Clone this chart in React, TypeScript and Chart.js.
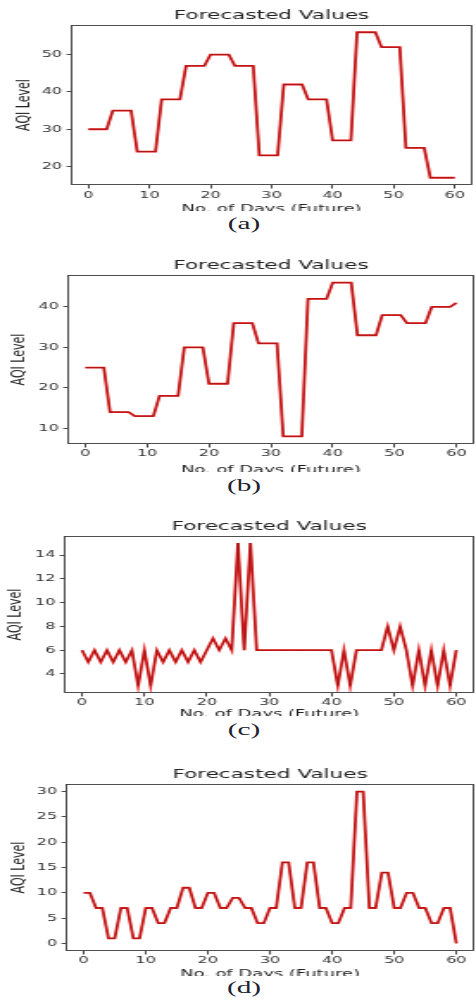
import React, { useEffect, useRef } from "react";
import { Chart, registerables } from "chart.js";

Chart.register(...registerables);

// ---------- DATA ----------
const days = [
  0, 1, 2, 3, 4, 5, 6, 7, 8, 9, 10, 11, 12, 13, 14, 15, 16, 17, 18, 19, 20,
  21, 22, 23, 24, 25, 26, 27, 28, 29, 30, 31, 32, 33, 34, 35, 36, 37, 38, 39, 40,
  41, 42, 43, 44, 45, 46, 47, 48, 49, 50, 51, 52, 53, 54, 55, 56, 57, 58, 59, 60,
];

const aqiA = [
  30, 30, 30, 30, 35, 35, 35, 35, 24, 24, 24, 24, 38, 38, 38, 38, 47, 47, 47, 47,
  50, 50, 50, 50, 47, 47, 47, 47, 23, 23, 23, 23, 42, 42, 42, 42, 38, 38, 38, 38,
  27, 27, 27, 27, 56, 56, 56, 56, 52, 52, 52, 52, 25, 25, 25, 25, 17, 17, 17, 17, 17,
];

const aqiB = [
  25, 25, 25, 25, 14, 14, 14, 14, 13, 13, 13, 13, 18, 18, 18, 18, 30, 30, 30, 30,
  21, 21, 21, 21, 36, 36, 36, 36, 31, 31, 31, 31, 8, 8, 8, 8, 42, 42, 42, 42,
  46, 46, 46, 46, 33, 33, 33, 33, 38, 38, 38, 38, 36, 36, 36, 36, 40, 40, 40, 40, 41,
];

const aqiC = [
  6, 5, 6, 5, 6, 5, 6, 5, 6, 3, 6, 3, 6, 5, 6, 5, 6, 5, 6, 5,
  6, 7, 6, 7, 6, 15, 6, 15, 6, 6, 6, 6, 6, 6, 6, 6, 6, 6, 6, 6,
  6, 3, 6, 3, 6, 6, 6, 6, 6, 8, 6, 8, 6, 3, 6, 3, 6, 3, 6, 3, 6,
];

const aqiD = [
  10, 10, 7, 7, 1, 1, 7, 7, 1, 1, 7, 7, 4, 4, 7, 7, 11, 11, 7, 7,
  10, 10, 7, 7, 9, 9, 7, 7, 4, 4, 7, 7, 16, 16, 7, 7, 16, 16, 7, 7,
  4, 4, 7, 7, 30, 30, 7, 7, 14, 14, 7, 7, 10, 10, 7, 7, 4, 4, 7, 7, 0,
];

const xTicks = [0, 10, 20, 30, 40, 50, 60];
const yTicksA = [20, 30, 40, 50];
const yTicksB = [10, 20, 30, 40];
const yTicksC = [4, 6, 8, 10, 12, 14];
const yTicksD = [0, 5, 10, 15, 20, 25, 30];

const chartTitle = "Forecasted Values";
const xAxisTitle = "No. of Days (Future)";
const yAxisTitle = "AQI Level";
const captions = ["(a)", "(b)", "(c)", "(d)"];

// ---------- LAYOUT ----------
const S = 1.7246; // horizontal stretch of the whole figure
const CW = 276; // internal width
const FONT = "'DejaVu Sans', sans-serif";

type Geo = {
  T: number;
  frameBottom: number;
  left: number;
  right: number;
  yTitleX: number;
  tickCenter: number;
  xTitleCenter: number;
  clip: number;
  captionY: number;
};

const geos: Geo[] = [
  { T: 0, frameBottom: 185, left: 40.6, right: 274.3, yTitleX: 13.9, tickCenter: 196, xTitleCenter: 208.8, clip: 210.5, captionY: 225.5 },
  { T: 250, frameBottom: 444, left: 38.7, right: 275.4, yTitleX: 11.2, tickCenter: 454, xTitleCenter: 469.8, clip: 471.5, captionY: 487.5 },
  { T: 511, frameBottom: 693, left: 36.7, right: 275.4, yTitleX: 9.3, tickCenter: 702.5, xTitleCenter: 713.8, clip: 715.5, captionY: 731.5 },
  { T: 759, frameBottom: 951, left: 37.7, right: 275.4, yTitleX: 11.0, tickCenter: 961, xTitleCenter: 974.3, clip: 976, captionY: 989 },
];

const series = [aqiA, aqiB, aqiC, aqiD];
const yTickSets = [yTicksA, yTicksB, yTicksC, yTicksD];

const framePlugin = {
  id: "frameBox",
  afterDatasetsDraw(chart: any) {
    const { ctx, chartArea } = chart;
    const l = Math.round(chartArea.left) + 0.5;
    const t = Math.round(chartArea.top) + 0.5;
    const r = Math.round(chartArea.right) - 0.5;
    const b = Math.round(chartArea.bottom) - 0.5;
    ctx.save();
    ctx.strokeStyle = "#3c3c3c";
    ctx.lineWidth = 0.9;
    ctx.strokeRect(l, t, r - l, b - t);
    ctx.restore();
  },
};

function Panel({ idx }: { idx: number }) {
  const ref = useRef<HTMLCanvasElement | null>(null);
  const g = geos[idx];
  const vals = series[idx];
  const yTicks = yTickSets[idx];
  const canvasH = Math.ceil(g.clip - g.T) + 20;

  useEffect(() => {
    if (!ref.current) return;
    const lo = Math.min(...vals);
    const hi = Math.max(...vals);
    const m = (hi - lo) * 0.05;
    const pts = days.map((d, i) => ({ x: d, y: vals[i] }));
    const xh = canvasH - (g.frameBottom - g.T);
    const xTickPad = g.tickCenter - g.frameBottom - 3.5 - (9.3 * 1.2) / 2;
    const xTitlePadB = canvasH - (g.xTitleCenter - g.T) - (10.4 * 1.2) / 2;

    const chart = new Chart(ref.current, {
      type: "line",
      data: {
        datasets: [
          { data: pts, borderColor: "#861010", borderWidth: 0.6, pointRadius: 0, tension: 0 },
          { data: pts, borderColor: "#e61c1c", borderWidth: 1.8, pointRadius: 0, tension: 0 },
        ],
      },
      options: {
        responsive: false,
        animation: false,
        devicePixelRatio: 1,
        layout: { padding: { top: 0, left: 0, bottom: 0, right: CW - g.right } },
        plugins: {
          legend: { display: false },
          tooltip: { enabled: false },
          title: {
            display: true,
            text: chartTitle,
            fullSize: false,
            color: "#222",
            font: { family: FONT, size: 12.5, weight: "normal" },
            padding: { top: 8.5, bottom: 1.5 },
          },
        },
        scales: {
          x: {
            type: "linear",
            min: -3,
            max: 63,
            afterBuildTicks: (s: any) => {
              s.ticks = xTicks.map((v) => ({ value: v }));
            },
            afterFit: (s: any) => {
              s.height = xh;
            },
            grid: { display: true, drawOnChartArea: false, drawTicks: true, tickLength: 3.5, tickColor: "#444" },
            border: { display: false },
            ticks: { color: "#333", font: { family: FONT, size: 9.3 }, padding: xTickPad, maxRotation: 0, autoSkip: false },
            title: {
              display: true,
              text: xAxisTitle,
              color: "#222",
              font: { family: FONT, size: 10.4 },
              padding: { top: 0, bottom: xTitlePadB },
            },
          },
          y: {
            type: "linear",
            min: lo - m,
            max: hi + m,
            afterBuildTicks: (s: any) => {
              s.ticks = yTicks.map((v) => ({ value: v }));
            },
            afterFit: (s: any) => {
              s.width = g.left;
            },
            grid: { display: true, drawOnChartArea: false, drawTicks: true, tickLength: 2, tickColor: "#444" },
            border: { display: false },
            ticks: { color: "#333", font: { family: FONT, size: 9.3 }, padding: 2.6, autoSkip: false },
            title: {
              display: true,
              text: yAxisTitle,
              color: "#222",
              font: { family: FONT, size: 11 },
              padding: { top: g.yTitleX - (11 * 1.2) / 2, bottom: 0 },
            },
          },
        },
      } as any,
      plugins: [framePlugin],
    });
    return () => chart.destroy();
  }, []);

  return (
    <>
      <div
        style={{
          position: "absolute",
          left: 0,
          top: g.T,
          width: CW,
          height: g.clip - g.T,
          overflow: "hidden",
        }}
      >
        <canvas
          ref={ref}
          width={CW}
          height={canvasH}
          style={{ display: "block", width: CW, height: canvasH }}
        />
      </div>
      <div
        style={{
          position: "absolute",
          left: 141.5 - 30,
          width: 60,
          top: g.captionY - 11.4,
          height: 20,
          lineHeight: "20px",
          textAlign: "center",
          fontFamily: "'Liberation Serif', 'Times New Roman', serif",
          fontSize: 17,
          color: "#22222e",
        }}
      >
        {captions[idx]}
      </div>
    </>
  );
}

export default function App() {
  return (
    <div
      style={{
        position: "absolute",
        left: 0,
        top: 0,
        width: CW,
        height: 1000,
        transform: `scaleX(${S})`,
        transformOrigin: "0 0",
        background: "#fff",
        overflow: "hidden",
      }}
    >
      {[0, 1, 2, 3].map((i) => (
        <Panel key={i} idx={i} />
      ))}
    </div>
  );
}
